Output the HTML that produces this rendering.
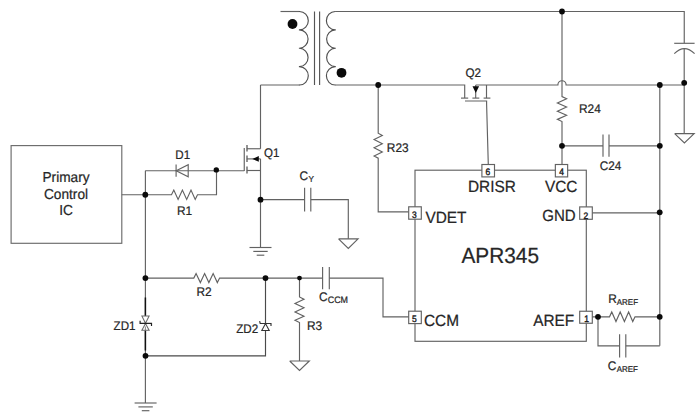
<!DOCTYPE html>
<html lang="en">
<head>
<meta charset="utf-8">
<title>APR345 Typical Application Circuit</title>
<style>
html, body { margin: 0; padding: 0; background: #ffffff; }
body { width: 700px; height: 420px; overflow: hidden; }
svg { display: block; font-family: "Liberation Sans", sans-serif; text-rendering: geometricPrecision; }
</style>
</head>
<body>
<svg width="700" height="420" viewBox="0 0 700 420">
<rect x="0" y="0" width="700" height="420" fill="#ffffff"/>
<g fill="none" stroke-linecap="butt" stroke-linejoin="miter">
<rect x="11.1" y="145.6" width="110.7" height="97.7" fill="none" stroke="#6c6c6c" stroke-width="1.15"/>
<text transform="translate(66.00 182.00) scale(0.95 1)" font-size="14.4" text-anchor="middle" fill="#262626" stroke="#262626" stroke-width="0.22">Primary</text>
<text transform="translate(66.00 199.00) scale(0.95 1)" font-size="14.4" text-anchor="middle" fill="#262626" stroke="#262626" stroke-width="0.22">Control</text>
<text transform="translate(66.00 215.00) scale(0.95 1)" font-size="14.4" text-anchor="middle" fill="#262626" stroke="#262626" stroke-width="0.22">IC</text>
<path d="M121.75 194.75 L171.50 194.75 L173.80 190.05 L178.10 199.45 L182.40 190.05 L186.70 199.45 L191.00 190.05 L195.20 199.45 L197.50 194.75 L216.50 194.75 L216.50 170.70" stroke="#626262" stroke-width="1.15" />
<path d="M145.25 170.70 L244.25 170.70" stroke="#626262" stroke-width="1.15" />
<path d="M188.2 164.7 L188.2 176.7 L176.2 170.7 Z" fill="none" stroke="#626262" stroke-width="1.15"/>
<path d="M176.10 164.60 L176.10 176.80" stroke="#626262" stroke-width="1.15" />
<text transform="translate(175.30 159.00) scale(0.93 1)" font-size="12.5" text-anchor="start" fill="#262626" stroke="#262626" stroke-width="0.22">D1</text>
<text transform="translate(177.00 215.00) scale(0.95 1)" font-size="12.5" text-anchor="start" fill="#262626" stroke="#262626" stroke-width="0.22">R1</text>
<path d="M145.40 170.70 L145.40 403.00" stroke="#626262" stroke-width="1.15" />
<path d="M244.25 148.00 L244.25 170.90" stroke="#626262" stroke-width="1.15" />
<path d="M247.00 145.10 L247.00 151.60" stroke="#444" stroke-width="1.15" />
<path d="M247.00 155.50 L247.00 162.10" stroke="#444" stroke-width="1.15" />
<path d="M247.00 166.60 L247.00 173.60" stroke="#444" stroke-width="1.15" />
<path d="M246.90 148.75 L260.50 148.75" stroke="#626262" stroke-width="1.15" />
<path d="M246.90 158.90 L260.50 158.90" stroke="#626262" stroke-width="1.15" />
<path d="M246.90 170.50 L260.50 170.50" stroke="#626262" stroke-width="1.15" />
<path d="M252.4 158.9 L258.8 156.0 L258.8 161.8 Z" fill="#0a0a0a"/>
<path d="M260.50 85.00 L260.50 148.75" stroke="#626262" stroke-width="1.15" />
<path d="M260.50 158.90 L260.50 247.50" stroke="#626262" stroke-width="1.15" />
<text transform="translate(264.00 157.30) scale(0.92 1)" font-size="12.5" text-anchor="start" fill="#262626" stroke="#262626" stroke-width="0.22">Q1</text>
<path d="M249.50 247.50 L271.50 247.50" stroke="#626262" stroke-width="1.15" />
<path d="M253.30 251.40 L267.70 251.40" stroke="#626262" stroke-width="1.15" />
<path d="M256.70 255.20 L264.30 255.20" stroke="#626262" stroke-width="1.15" />
<path d="M260.50 199.60 L304.60 199.60" stroke="#626262" stroke-width="1.15" />
<path d="M304.60 187.80 L304.60 211.40" stroke="#626262" stroke-width="1.15" />
<path d="M310.80 187.80 L310.80 211.40" stroke="#626262" stroke-width="1.15" />
<path d="M310.80 199.60 L348.30 199.60 L348.30 238.80" stroke="#626262" stroke-width="1.15" />
<path d="M338.55 238.80 L358.05 238.80 L348.30 248.40 L338.55 238.80" stroke="#626262" stroke-width="1.15" stroke-linejoin="miter"/>
<text transform="translate(299.60 180.00) scale(0.95 1)" font-size="12.5" fill="#262626" stroke="#262626" stroke-width="0.22">C<tspan font-size="8.6" dx="0.4" dy="2.0">Y</tspan></text>
<path d="M280.50 11.50 L299.50 11.50" stroke="#626262" stroke-width="1.15" />
<path d="M260.50 85.00 L299.50 85.00" stroke="#626262" stroke-width="1.15" />
<path d="M298.90 11.50 L299.50 11.50 A8.8 9.188 0 0 1 299.50 29.88 L298.90 29.88 M298.90 29.88 L299.50 29.88 A8.8 9.188 0 0 1 299.50 48.25 L298.90 48.25 M298.90 48.25 L299.50 48.25 A8.8 9.188 0 0 1 299.50 66.62 L298.90 66.62 M298.90 66.62 L299.50 66.62 A8.8 9.188 0 0 1 299.50 85.00 L298.90 85.00 " stroke="#505050" stroke-width="1.15" fill="none"/>
<path d="M335.80 11.50 L335.20 11.50 A8.8 9.188 0 0 0 335.20 29.88 L335.80 29.88 M335.80 29.88 L335.20 29.88 A8.8 9.188 0 0 0 335.20 48.25 L335.80 48.25 M335.80 48.25 L335.20 48.25 A8.8 9.188 0 0 0 335.20 66.62 L335.80 66.62 M335.80 66.62 L335.20 66.62 A8.8 9.188 0 0 0 335.20 85.00 L335.80 85.00 " stroke="#505050" stroke-width="1.15" fill="none"/>
<path d="M314.50 11.50 L314.50 85.00" stroke="#555" stroke-width="1.15" />
<path d="M319.60 11.50 L319.60 85.00" stroke="#555" stroke-width="1.15" />
<path d="M335.50 11.50 L684.25 11.50 L684.25 43.30" stroke="#626262" stroke-width="1.15" />
<path d="M674.20 43.30 L694.60 43.30" stroke="#626262" stroke-width="1.15" />
<path d="M674.3 53.6 Q684.4 43.6 694.6 53.6" stroke="#626262" stroke-width="1.15" fill="none"/>
<path d="M684.20 48.60 L684.20 133.60" stroke="#626262" stroke-width="1.15" />
<path d="M674.65 133.60 L694.15 133.60 L684.40 143.00 L674.65 133.60" stroke="#626262" stroke-width="1.15" stroke-linejoin="miter"/>
<path d="M335.50 85.00 L464.70 85.00 L464.70 98.10" stroke="#626262" stroke-width="1.15" />
<path d="M475.7 85 L557.9 85 A4.1 4.3 0 0 1 566.1 85 L684.25 85" stroke="#626262" stroke-width="1.15" fill="none"/>
<path d="M486.50 85.00 L486.50 98.10" stroke="#626262" stroke-width="1.15" />
<path d="M475.70 85.00 L475.70 98.10" stroke="#626262" stroke-width="1.15" />
<path d="M472.5 86.3 L479.1 86.3 L475.8 93.0 Z" fill="#0a0a0a"/>
<path d="M461.00 98.10 L468.20 98.10" stroke="#626262" stroke-width="1.15" />
<path d="M472.40 98.10 L479.30 98.10" stroke="#626262" stroke-width="1.15" />
<path d="M483.60 98.10 L490.40 98.10" stroke="#626262" stroke-width="1.15" />
<path d="M465.00 101.00 L486.60 101.00 L486.60 104.00 L488.30 164.50" stroke="#626262" stroke-width="1.15" />
<text transform="translate(465.40 77.00) scale(0.93 1)" font-size="12.5" text-anchor="start" fill="#262626" stroke="#262626" stroke-width="0.22">Q2</text>
<path d="M378.20 85.00 L378.20 133.20 L382.30 135.41 L374.10 139.55 L382.30 143.68 L374.10 147.82 L382.30 151.95 L374.10 155.99 L378.20 158.20 L378.20 211.80 L408.75 211.80" stroke="#626262" stroke-width="1.15" />
<text transform="translate(386.80 152.00) scale(0.95 1)" font-size="12.5" text-anchor="start" fill="#262626" stroke="#262626" stroke-width="0.22">R23</text>
<path d="M562.00 11.50 L562.00 96.60 L566.60 98.81 L557.40 102.95 L566.60 107.08 L557.40 111.22 L566.60 115.35 L557.40 119.39 L562.00 121.60 L562.00 164.50" stroke="#626262" stroke-width="1.15" />
<text transform="translate(579.00 113.00) scale(0.95 1)" font-size="12.5" text-anchor="start" fill="#262626" stroke="#262626" stroke-width="0.22">R24</text>
<path d="M562.00 145.80 L603.00 145.80" stroke="#626262" stroke-width="1.15" />
<path d="M603.00 134.40 L603.00 156.80" stroke="#626262" stroke-width="1.15" />
<path d="M609.00 134.40 L609.00 156.80" stroke="#626262" stroke-width="1.15" />
<path d="M609.00 145.80 L659.80 145.80" stroke="#626262" stroke-width="1.15" />
<text transform="translate(599.80 170.00) scale(0.94 1)" font-size="12.5" text-anchor="start" fill="#262626" stroke="#262626" stroke-width="0.22">C24</text>
<path d="M659.80 85.00 L659.80 345.80" stroke="#626262" stroke-width="1.15" />
<rect x="415" y="170.2" width="171.3" height="171.1" fill="none" stroke="#626262" stroke-width="1.15"/>
<rect x="481.90" y="164.50" width="12.6" height="12.4" fill="#fff" stroke="#626262" stroke-width="1.15"/>
<text transform="translate(487.80 175.10) scale(0.9 1)" font-size="9.4" text-anchor="middle" fill="#1a1a1a" stroke="#1a1a1a" stroke-width="0.4">6</text>
<rect x="555.35" y="164.50" width="12.3" height="12.4" fill="#fff" stroke="#626262" stroke-width="1.15"/>
<text transform="translate(561.70 175.10) scale(0.9 1)" font-size="9.4" text-anchor="middle" fill="#1a1a1a" stroke="#1a1a1a" stroke-width="0.4">4</text>
<rect x="408.70" y="206.80" width="12.6" height="12.4" fill="#fff" stroke="#626262" stroke-width="1.15"/>
<text transform="translate(414.40 218.20) scale(0.9 1)" font-size="9.4" text-anchor="middle" fill="#1a1a1a" stroke="#1a1a1a" stroke-width="0.4">3</text>
<rect x="579.70" y="206.90" width="12.6" height="12.4" fill="#fff" stroke="#626262" stroke-width="1.15"/>
<text transform="translate(585.90 219.00) scale(0.9 1)" font-size="9.4" text-anchor="middle" fill="#1a1a1a" stroke="#1a1a1a" stroke-width="0.4">2</text>
<rect x="408.70" y="311.20" width="12.6" height="12.4" fill="#fff" stroke="#626262" stroke-width="1.15"/>
<text transform="translate(414.40 321.70) scale(0.9 1)" font-size="9.4" text-anchor="middle" fill="#1a1a1a" stroke="#1a1a1a" stroke-width="0.4">5</text>
<rect x="579.70" y="311.25" width="12.6" height="12.0" fill="#fff" stroke="#626262" stroke-width="1.15"/>
<text transform="translate(586.60 321.95) scale(0.9 1)" font-size="9.4" text-anchor="middle" fill="#1a1a1a" stroke="#1a1a1a" stroke-width="0.4">1</text>
<text transform="translate(468.00 191.60) scale(0.95 1)" font-size="16.2" text-anchor="start" fill="#262626" stroke="#262626" stroke-width="0.22">DRISR</text>
<text transform="translate(545.00 191.60) scale(0.95 1)" font-size="16.2" text-anchor="start" fill="#262626" stroke="#262626" stroke-width="0.22">VCC</text>
<text transform="translate(425.50 222.60) scale(0.95 1)" font-size="16.2" text-anchor="start" fill="#262626" stroke="#262626" stroke-width="0.22">VDET</text>
<text transform="translate(542.20 221.30) scale(0.93 1)" font-size="16.2" text-anchor="start" fill="#262626" stroke="#262626" stroke-width="0.22">GND</text>
<text transform="translate(424.00 325.80) scale(0.95 1)" font-size="16.2" text-anchor="start" fill="#262626" stroke="#262626" stroke-width="0.22">CCM</text>
<text transform="translate(533.20 326.00) scale(0.95 1)" font-size="16.2" text-anchor="start" fill="#262626" stroke="#262626" stroke-width="0.22">AREF</text>
<text transform="translate(461.50 262.50) scale(0.95 1)" font-size="21.9" text-anchor="start" fill="#262626" stroke="#262626" stroke-width="0.22">APR345</text>
<path d="M592.40 212.80 L659.80 212.80" stroke="#626262" stroke-width="1.15" />
<path d="M592.40 316.80 L609.50 316.80 L611.76 312.00 L615.97 321.60 L620.19 312.00 L624.41 321.60 L628.62 312.00 L632.74 321.60 L635.00 316.80 L659.80 316.80" stroke="#626262" stroke-width="1.15" />
<path d="M598.00 316.80 L598.00 345.80 L619.60 345.80" stroke="#626262" stroke-width="1.15" />
<path d="M619.60 334.20 L619.60 357.40" stroke="#626262" stroke-width="1.15" />
<path d="M625.80 334.20 L625.80 357.40" stroke="#626262" stroke-width="1.15" />
<path d="M625.80 345.80 L659.80 345.80" stroke="#626262" stroke-width="1.15" />
<text transform="translate(608.20 303.00) scale(0.95 1)" font-size="12.5" fill="#262626" stroke="#262626" stroke-width="0.22">R<tspan font-size="8.4" dx="0.0" dy="2.0">AREF</tspan></text>
<text transform="translate(607.80 370.00) scale(0.95 1)" font-size="12.5" fill="#262626" stroke="#262626" stroke-width="0.22">C<tspan font-size="8.4" dx="0.4" dy="2.0">AREF</tspan></text>
<path d="M145.30 278.10 L193.80 278.10 L196.08 273.60 L200.35 282.60 L204.62 273.60 L208.88 282.60 L213.15 273.60 L217.32 282.60 L219.60 278.10 L322.60 278.10" stroke="#626262" stroke-width="1.15" />
<path d="M322.60 266.90 L322.60 289.30" stroke="#626262" stroke-width="1.15" />
<path d="M329.30 266.90 L329.30 289.30" stroke="#626262" stroke-width="1.15" />
<path d="M329.30 278.10 L383.00 278.10 L383.00 316.80 L408.75 316.80" stroke="#626262" stroke-width="1.15" />
<text transform="translate(196.50 296.30) scale(0.95 1)" font-size="12.5" text-anchor="start" fill="#262626" stroke="#262626" stroke-width="0.22">R2</text>
<text transform="translate(319.00 301.00) scale(0.95 1)" font-size="12.5" fill="#262626" stroke="#262626" stroke-width="0.22">C<tspan font-size="9.4" dx="0.2" dy="2.0">CCM</tspan></text>
<path d="M299.50 278.10 L299.50 297.00 L304.00 299.26 L295.00 303.50 L304.00 307.73 L295.00 311.97 L304.00 316.20 L295.00 320.34 L299.50 322.60 L299.50 361.00" stroke="#626262" stroke-width="1.15" />
<path d="M289.70 361.00 L309.30 361.00 L299.50 370.40 L289.70 361.00" stroke="#626262" stroke-width="1.15" stroke-linejoin="miter"/>
<text transform="translate(307.00 329.60) scale(0.95 1)" font-size="12.5" text-anchor="start" fill="#262626" stroke="#262626" stroke-width="0.22">R3</text>
<path d="M265.50 278.10 L265.50 355.80 L145.40 355.80" stroke="#4a4a4a" stroke-width="1.15" />
<path d="M261.8 330.5 L269.2 330.5 L265.5 323.6 Z" fill="#fff" stroke="#333" stroke-width="1.1"/>
<path d="M259.60 321.20 L260.20 323.50 L271.00 323.50 L271.00 326.00" stroke="#333" stroke-width="1.15" />
<text transform="translate(236.20 332.70) scale(0.93 1)" font-size="12.5" text-anchor="start" fill="#262626" stroke="#262626" stroke-width="0.22">ZD2</text>
<path d="M145.40 297.50 L145.40 315.90" stroke="#111" stroke-width="1.5" />
<path d="M145.40 330.20 L145.40 350.50" stroke="#111" stroke-width="1.5" />
<path d="M141.9 315.9 L149.1 315.9 L145.5 323.2 Z" fill="#fff" stroke="#6a6a6a" stroke-width="1.05"/>
<path d="M141.9 330.2 L149.1 330.2 L145.5 323.6 Z" fill="#fff" stroke="#6a6a6a" stroke-width="1.05"/>
<path d="M145.40 326.50 L145.40 330.20" stroke="#888" stroke-width="1.0" />
<path d="M140.10 320.80 L140.10 323.40 L151.50 323.40 L151.50 325.90" stroke="#222" stroke-width="1.2" />
<text transform="translate(113.60 329.80) scale(0.93 1)" font-size="12.5" text-anchor="start" fill="#262626" stroke="#262626" stroke-width="0.22">ZD1</text>
<path d="M134.60 403.00 L156.60 403.00" stroke="#626262" stroke-width="1.15" />
<path d="M138.40 406.90 L152.80 406.90" stroke="#626262" stroke-width="1.15" />
<path d="M141.80 410.70 L149.40 410.70" stroke="#626262" stroke-width="1.15" />
<circle cx="145.30" cy="194.75" r="2.9" fill="#0a0a0a" stroke="none"/>
<circle cx="216.30" cy="169.90" r="2.7" fill="#0a0a0a" stroke="none"/>
<circle cx="260.50" cy="199.70" r="2.9" fill="#0a0a0a" stroke="none"/>
<circle cx="292.50" cy="24.00" r="4.9" fill="#0a0a0a" stroke="none"/>
<circle cx="341.50" cy="72.80" r="4.9" fill="#0a0a0a" stroke="none"/>
<circle cx="378.20" cy="85.00" r="2.9" fill="#0a0a0a" stroke="none"/>
<circle cx="562.00" cy="11.50" r="2.9" fill="#0a0a0a" stroke="none"/>
<circle cx="659.80" cy="85.00" r="2.9" fill="#0a0a0a" stroke="none"/>
<circle cx="684.20" cy="82.80" r="2.9" fill="#0a0a0a" stroke="none"/>
<circle cx="562.00" cy="145.80" r="2.9" fill="#0a0a0a" stroke="none"/>
<circle cx="659.80" cy="145.80" r="2.9" fill="#0a0a0a" stroke="none"/>
<circle cx="659.70" cy="212.30" r="2.9" fill="#0a0a0a" stroke="none"/>
<circle cx="598.00" cy="316.80" r="2.9" fill="#0a0a0a" stroke="none"/>
<circle cx="659.70" cy="316.80" r="2.9" fill="#0a0a0a" stroke="none"/>
<circle cx="145.40" cy="278.10" r="2.9" fill="#0a0a0a" stroke="none"/>
<circle cx="265.50" cy="278.10" r="2.9" fill="#0a0a0a" stroke="none"/>
<circle cx="299.50" cy="278.10" r="2.4" fill="#0a0a0a" stroke="none"/>
<circle cx="145.50" cy="355.80" r="2.9" fill="#0a0a0a" stroke="none"/>
</g>
</svg>
</body>
</html>
